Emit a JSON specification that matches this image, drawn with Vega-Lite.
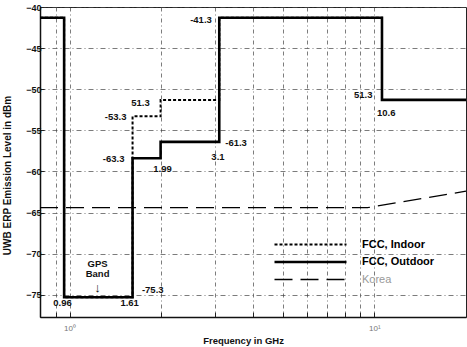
{
  "$schema": "https://vega.github.io/schema/vega-lite/v6.json",
  "width": 426,
  "height": 310,
  "autosize": "none",
  "padding": {"left": 40, "top": 7, "right": 1, "bottom": 30},
  "background": "white",
  "config": {
    "view": {"stroke": "#222", "strokeWidth": 1},
    "font": "Liberation Sans"
  },
  "datasets": {
    "masks": [
      {"series": "FCC, Indoor", "o": 1, "f": 0.8, "level": -41.3},
      {"series": "FCC, Indoor", "o": 2, "f": 0.96, "level": -41.3},
      {"series": "FCC, Indoor", "o": 3, "f": 0.96, "level": -75.3},
      {"series": "FCC, Indoor", "o": 4, "f": 1.61, "level": -75.3},
      {"series": "FCC, Indoor", "o": 5, "f": 1.61, "level": -53.3},
      {"series": "FCC, Indoor", "o": 6, "f": 1.99, "level": -53.3},
      {"series": "FCC, Indoor", "o": 7, "f": 1.99, "level": -51.3},
      {"series": "FCC, Indoor", "o": 8, "f": 3.1, "level": -51.3},
      {"series": "FCC, Indoor", "o": 9, "f": 3.1, "level": -41.3},
      {"series": "FCC, Indoor", "o": 10, "f": 10.6, "level": -41.3},
      {"series": "FCC, Indoor", "o": 11, "f": 10.6, "level": -51.3},
      {"series": "FCC, Indoor", "o": 12, "f": 20, "level": -51.3},
      {"series": "FCC, Outdoor", "o": 1, "f": 0.8, "level": -41.3},
      {"series": "FCC, Outdoor", "o": 2, "f": 0.96, "level": -41.3},
      {"series": "FCC, Outdoor", "o": 3, "f": 0.96, "level": -75.3},
      {"series": "FCC, Outdoor", "o": 4, "f": 1.61, "level": -75.3},
      {"series": "FCC, Outdoor", "o": 5, "f": 1.61, "level": -58.4},
      {"series": "FCC, Outdoor", "o": 6, "f": 1.99, "level": -58.4},
      {"series": "FCC, Outdoor", "o": 7, "f": 1.99, "level": -56.4},
      {"series": "FCC, Outdoor", "o": 8, "f": 3.1, "level": -56.4},
      {"series": "FCC, Outdoor", "o": 9, "f": 3.1, "level": -41.3},
      {"series": "FCC, Outdoor", "o": 10, "f": 10.6, "level": -41.3},
      {"series": "FCC, Outdoor", "o": 11, "f": 10.6, "level": -51.3},
      {"series": "FCC, Outdoor", "o": 12, "f": 20, "level": -51.3},
      {"series": "Korea", "o": 1, "f": 0.8, "level": -64.4},
      {"series": "Korea", "o": 2, "f": 9.5, "level": -64.4},
      {"series": "Korea", "o": 3, "f": 20, "level": -62.4}
    ],
    "notes": [
      {"t": "-41.3", "f": 2.70, "level": -41.6},
      {"t": "-53.3", "f": 1.417, "level": -53.35},
      {"t": "51.3", "f": 1.71, "level": -51.65},
      {"t": "-63.3", "f": 1.395, "level": -58.45},
      {"t": "1.99", "f": 2.02, "level": -59.7},
      {"t": "-61.3", "f": 3.52, "level": -56.5},
      {"t": "3.1", "f": 3.07, "level": -58.2},
      {"t": "51.3", "f": 9.2, "level": -50.7},
      {"t": "10.6", "f": 10.95, "level": -52.9},
      {"t": "0.96", "f": 0.948, "level": -75.95},
      {"t": "1.61", "f": 1.575, "level": -75.95},
      {"t": "-75.3", "f": 1.875, "level": -74.4},
      {"t": "GPS", "f": 1.236, "level": -71.2},
      {"t": "Band", "f": 1.236, "level": -72.5}
    ],
    "arrow": [
      {"t": "↓", "f": 1.236, "level": -74.15}
    ]
  },
  "encoding": {
    "x": {
      "field": "f", "type": "quantitative",
      "scale": {"type": "log", "domain": [0.8, 20], "nice": false},
      "axis": {
        "title": "Frequency in GHz",
        "titleFontSize": 9.5, "titleFontWeight": "bold", "titleColor": "#111",
        "titleX": 203, "titleY": 26, "titleBaseline": "alphabetic",
        "values": [0.9, 1, 2, 3, 4, 5, 6, 7, 8, 9, 10],
        "labelExpr": "datum.value == 1 ? '10⁰' : (datum.value == 10 ? '10¹' : '')",
        "labelFontSize": 8, "labelColor": "#777", "labelPadding": 12,
        "tickSize": -5, "tickColor": "#222",
        "domainColor": "#111", "domainWidth": 1.5,
        "grid": true, "gridColor": "#444", "gridDash": [4, 3, 1, 3], "gridWidth": 0.7
      }
    },
    "y": {
      "field": "level", "type": "quantitative",
      "scale": {"domain": [-77.7, -40], "nice": false, "zero": false},
      "axis": {
        "title": "UWB ERP Emission Level in dBm",
        "titleFontSize": 10, "titleFontWeight": "bold", "titleColor": "#111",
        "titleX": -28, "titleY": 168,
        "values": [-75, -70, -65, -60, -55, -50, -45, -40],
        "labelFontSize": 9, "labelFontWeight": "bold", "labelColor": "#111", "labelPadding": 3,
        "tickSize": -4, "tickColor": "#222",
        "domainColor": "#111", "domainWidth": 1.5,
        "grid": true, "gridColor": "#444", "gridDash": [5, 3, 1, 3], "gridWidth": 0.7
      }
    }
  },
  "layer": [
    {
      "data": {"name": "masks"},
      "transform": [{"filter": "datum.series == 'Korea'"}],
      "mark": {"type": "line", "color": "black", "strokeWidth": 1.2, "strokeCap": "butt"},
      "encoding": {
        "order": {"field": "o", "type": "quantitative"},
        "strokeDash": {
          "field": "series", "type": "nominal",
          "scale": {"domain": ["FCC, Indoor", "FCC, Outdoor", "Korea"], "range": [[3, 2], [1, 0], [18, 8]]},
          "legend": {
            "title": null, "orient": "none", "legendX": 265, "legendY": 232,
            "symbolType": "M-7.2,0H7.2", "symbolSize": 100, "symbolStrokeColor": "black", "symbolStrokeWidth": 2,
            "labelFontSize": 11, "labelFontWeight": "bold", "labelOffset": 46, "rowPadding": 5.5,
            "labelColor": "black",
            "encode": {
              "labels": {"update": {
                "fill": {"signal": "datum.label == 'Korea' ? '#999' : 'black'"},
                "fontWeight": {"signal": "datum.label == 'Korea' ? 'normal' : 'bold'"}
              }},
              "symbols": {"update": {
                "strokeWidth": {"signal": "datum.label == 'Korea' ? 1.3 : (datum.label == 'FCC, Indoor' ? 2 : 2.6)"}
              }}
            }
          }
        }
      }
    },
    {
      "data": {"name": "masks"},
      "transform": [{"filter": "datum.series == 'FCC, Indoor'"}],
      "mark": {"type": "line", "color": "black", "strokeWidth": 2, "strokeCap": "butt", "strokeJoin": "miter"},
      "encoding": {
        "order": {"field": "o", "type": "quantitative"},
        "strokeDash": {"field": "series", "type": "nominal"}
      }
    },
    {
      "data": {"name": "masks"},
      "transform": [{"filter": "datum.series == 'FCC, Outdoor'"}],
      "mark": {"type": "line", "color": "black", "strokeWidth": 2.6, "strokeCap": "butt", "strokeJoin": "miter"},
      "encoding": {
        "order": {"field": "o", "type": "quantitative"},
        "strokeDash": {"field": "series", "type": "nominal"}
      }
    },
    {
      "data": {"name": "notes"},
      "mark": {"type": "text", "fontSize": 9.5, "fontWeight": "bold", "color": "#111", "align": "center", "baseline": "middle"},
      "encoding": {
        "text": {"field": "t"}
      }
    },
    {
      "data": {"name": "arrow"},
      "mark": {"type": "text", "fontSize": 13, "fontWeight": "bold", "color": "#111", "align": "center", "baseline": "middle"},
      "encoding": {
        "text": {"field": "t"}
      }
    }
  ]
}
